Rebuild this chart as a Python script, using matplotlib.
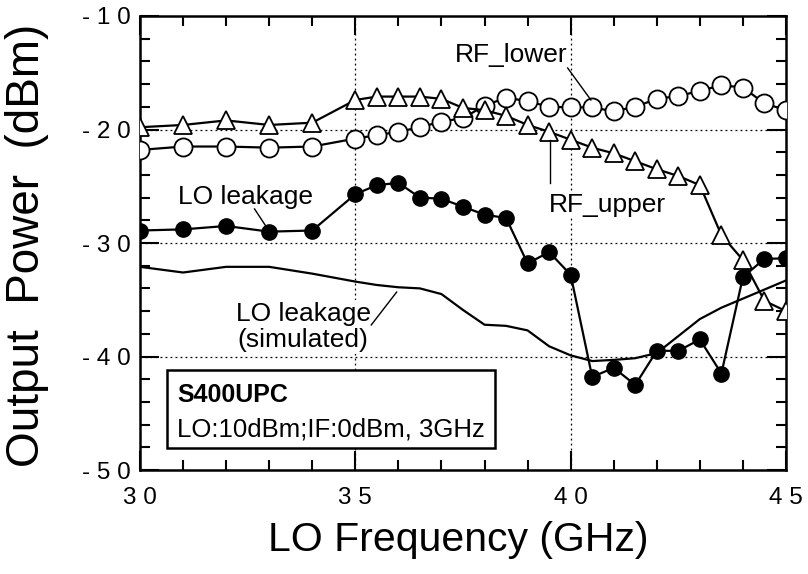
import matplotlib
matplotlib.use("Agg")
import matplotlib.pyplot as plt
from matplotlib.patches import Rectangle
from matplotlib.ticker import MultipleLocator

plt.rcParams['font.family'] = ['Liberation Sans', 'DejaVu Sans']

# ---------------- data ----------------
freq_low = [30, 31, 32, 33, 34]
freq_high = [35, 35.5, 36, 36.5, 37, 37.5, 38, 38.5, 39, 39.5, 40, 40.5, 41,
             41.5, 42, 42.5, 43, 43.5, 44, 44.5, 45]
freq = freq_low + freq_high

rf_upper = [-19.8, -19.6, -19.2, -19.6, -19.4,
            -17.4, -17.1, -17.1, -17.1, -17.3, -18.1, -18.3, -18.8, -19.6, -20.2,
            -20.9, -21.6, -22.1, -22.8, -23.5, -24.1, -24.9, -29.3, -31.5, -35.1, -36.0]

rf_lower = [-21.8, -21.5, -21.5, -21.6, -21.5,
            -20.8, -20.5, -20.2, -19.8, -19.3, -19.0, -17.9, -17.2, -17.5, -18.0,
            -18.05, -18.05, -18.4, -18.0, -17.3, -17.05, -16.6, -16.1, -16.3, -17.7, -18.3]

lo_leak = [-28.9, -28.8, -28.5, -29.0, -28.9,
           -25.7, -24.9, -24.7, -26.0, -26.1, -26.8, -27.5, -27.8, -31.8, -30.8,
           -32.8, -41.8, -41.0, -42.5, -39.5, -39.5, -38.5, -41.5, -33.0, -31.4, -31.35]

sim_freq = [30, 31, 32, 33, 34, 35, 35.5, 36, 36.5, 37, 37.5, 38, 38.5, 39,
            39.5, 40, 40.5, 41, 41.5, 42, 42.5, 43, 43.5, 44, 44.5, 45]
lo_leak_sim = [-32.1, -32.6, -32.1, -32.1, -32.7, -33.4, -33.7, -33.9, -34.0,
               -34.5, -35.9, -37.2, -37.3, -37.7, -39.1, -39.9, -40.4, -40.3,
               -40.15, -39.7, -38.2, -36.7, -35.7, -34.9, -34.1, -33.3]

xticks = [30, 35, 40, 45]
xtick_labels = ["3 0", "3 5", "4 0", "4 5"]
yticks = [-50, -40, -30, -20, -10]
ytick_labels = ["- 5 0", "- 4 0", "- 3 0", "- 2 0", "- 1 0"]

# ---------------- figure ----------------
fig = plt.figure(figsize=(8.08, 5.74), dpi=100)
ax = fig.add_axes([140/808, 1-470/574, 646/808, 454/574])

ax.set_xlim(30, 45)
ax.set_ylim(-50, -10)

# grid (dotted) at inner major ticks
for gx in [35, 40]:
    ax.axvline(gx, color='black', lw=0.9, ls=(0, (1.5, 2.5)), zorder=1)
for gy in [-20, -30, -40]:
    ax.axhline(gy, color='black', lw=0.9, ls=(0, (1.5, 2.5)), zorder=1)

lw = 1.6
ax.plot(sim_freq, lo_leak_sim, color='black', lw=lw, zorder=2)
ax.plot(freq, rf_upper, color='black', lw=lw, marker='^', ms=13.5,
        mfc='white', mec='black', mew=1.3, zorder=4)
ax.plot(freq, rf_lower, color='black', lw=lw, marker='o', ms=13,
        mfc='white', mec='black', mew=1.3, zorder=3)
ax.plot(freq, lo_leak, color='black', lw=lw, marker='o', ms=11,
        mfc='black', mec='black', zorder=5)

# ticks
ax.set_xticks(xticks)
ax.set_xticklabels(xtick_labels)
ax.set_yticks(yticks)
ax.set_yticklabels(ytick_labels)
ax.xaxis.set_minor_locator(MultipleLocator(1))
ax.yaxis.set_minor_locator(MultipleLocator(2))
ax.tick_params(which='both', direction='in', top=True, right=True, width=1.5)
ax.tick_params(which='major', length=14, labelsize=17.5, pad=7)
ax.tick_params(axis='x', which='major', pad=12)
ax.tick_params(which='minor', length=7)
for s in ax.spines.values():
    s.set_linewidth(1.8)

ax.set_xlabel("LO Frequency (GHz)", fontsize=29.5)
ax.xaxis.set_label_coords((458-140)/646, (470-540)/454)
ax.xaxis.label.set_va('center')
ax.set_ylabel("Output  Power  (dBm)", fontsize=33)
ax.yaxis.set_label_coords((27-140)/646, (470-245)/454)
ax.yaxis.label.set_va('center')

# annotations
tfs = 19
bb = dict(facecolor='white', edgecolor='none', pad=1)
ax.text(38.62, -13.44, "RF_lower", fontsize=tfs, ha='center', va='center', zorder=6, bbox=bb)
ax.plot([39.93, 40.47], [-14.58, -17.4], color='black', lw=1.0, zorder=6)

ax.text(40.86, -26.65, "RF_upper", fontsize=tfs, ha='center', va='center', zorder=6, bbox=bb)
ax.plot([39.51, 39.51], [-20.93, -24.71], color='black', lw=1.0, zorder=6)

ax.text(32.45, -25.95, "LO leakage", fontsize=tfs, ha='center', va='center', zorder=6, bbox=bb)
ax.plot([32.66, 32.92], [-27.0, -28.5], color='black', lw=1.0, zorder=6)

ax.text(33.79, -37.4, "LO leakage\n(simulated)", fontsize=tfs, ha='center', va='center',
        zorder=6, bbox=bb, linespacing=1.15)
ax.plot([35.96, 35.37], [-34.32, -37.22], color='black', lw=1.0, zorder=6)

# info box
x0, x1 = (167-140)/646, (495-140)/646
y0, y1 = (470-448)/454, (470-370)/454
ax.add_patch(Rectangle((x0, y0), x1-x0, y1-y0, transform=ax.transAxes,
                       facecolor='white', edgecolor='black', lw=1.8, zorder=7))
ax.text((177-140)/646, (470-395)/454, "S400UPC", transform=ax.transAxes,
        fontsize=18, fontweight='bold', ha='left', va='center', zorder=8)
ax.text((177-140)/646, (470-430)/454, "LO:10dBm;IF:0dBm, 3GHz", transform=ax.transAxes,
        fontsize=18.5, ha='left', va='center', zorder=8)

fig.savefig("out.png", dpi=100)
